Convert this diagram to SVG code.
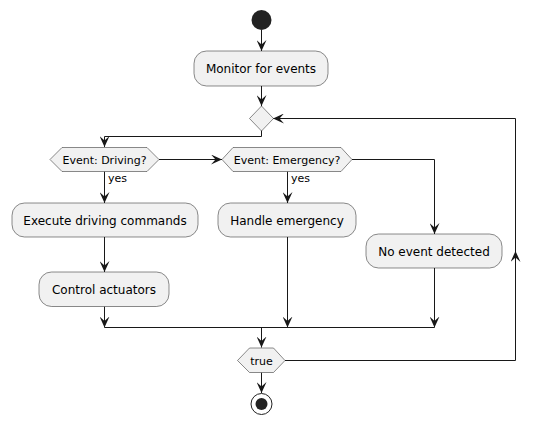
<svg xmlns="http://www.w3.org/2000/svg" width="539" height="422" viewBox="0 0 539 422">
<style>
.box{fill:#F1F1F1;stroke:#181818;stroke-width:0.5}
.t12{font-family:"DejaVu Sans",sans-serif;font-size:12px;fill:#000;text-anchor:middle}
.t11{font-family:"DejaVu Sans",sans-serif;font-size:11px;fill:#000;text-anchor:middle}
.lbl{font-family:"DejaVu Sans",sans-serif;font-size:11px;fill:#000}
.ln{fill:none;stroke:#181818;stroke-width:1}
.arr{marker-end:url(#ah)}
</style>
<defs>
<marker id="ah" viewBox="0 0 11 10" refX="11" refY="5" markerWidth="11" markerHeight="10" markerUnits="userSpaceOnUse" orient="auto">
<path d="M0,0 L11,5 L0,10 L4.5,5 Z" fill="#181818"/>
</marker>
</defs>
<g id="connectors">
<path class="ln arr" d="M261.5,30 V51"/>
<path class="ln arr" d="M261.5,86 V106"/>
<path class="ln arr" d="M261.5,130 V136.5 H104.5 V147"/>
<path class="ln arr" d="M159,159.5 H222"/>
<path class="ln arr" d="M104.5,171.5 V203"/>
<path class="ln arr" d="M104.5,237 V272"/>
<path class="ln arr" d="M287.5,171.5 V203"/>
<path class="ln arr" d="M352,159.5 H434.5 V234"/>
<path class="ln arr" d="M104.5,306.5 V327.5"/>
<path class="ln arr" d="M287.5,237 V327.5"/>
<path class="ln arr" d="M434.5,268 V327.5"/>
<path class="ln" d="M104.5,327.5 H434.5"/>
<path class="ln arr" d="M261.5,327.5 V347.5"/>
<path class="ln arr" d="M285,360.5 H515.5 V251"/>
<path class="ln arr" d="M515.5,252 V118.5 H273"/>
<path class="ln arr" d="M261.5,372.5 V393"/>
<text class="lbl" x="108" y="182">yes</text>
<text class="lbl" x="291" y="182">yes</text>
</g>
<g id="start"><circle cx="261.5" cy="20" r="10" fill="#222222"/></g>
<g id="monitor"><rect class="box" x="194" y="51" width="134" height="35" rx="12.5"/><text class="t12" x="261" y="73">Monitor for events</text></g>
<g id="merge1"><polygon class="box" points="261.5,106 273.5,118.5 261.5,131 249.5,118.5"/></g>
<g id="driving"><polygon class="box" points="50,159.5 62,147.5 147,147.5 159,159.5 147,171.5 62,171.5"/><text class="t11" x="104.5" y="163.5">Event: Driving?</text></g>
<g id="emergency"><polygon class="box" points="222,159.5 233,147.5 341,147.5 352,159.5 341,171.5 233,171.5"/><text class="t11" x="287" y="163.5">Event: Emergency?</text></g>
<g id="execute"><rect class="box" x="12" y="203" width="186" height="34" rx="12.5"/><text class="t12" x="105" y="224.5">Execute driving commands</text></g>
<g id="control"><rect class="box" x="39" y="272" width="130" height="34.5" rx="12.5"/><text class="t12" x="104" y="293.5">Control actuators</text></g>
<g id="handle"><rect class="box" x="218" y="203" width="138" height="34" rx="12.5"/><text class="t12" x="287" y="224.5">Handle emergency</text></g>
<g id="noevent"><rect class="box" x="366" y="234" width="136" height="34" rx="12.5"/><text class="t12" x="434" y="255.5">No event detected</text></g>
<g id="whiletrue"><polygon class="box" points="237.5,360.5 249.5,348 273.5,348 285,360.5 273.5,372.5 249.5,372.5"/><text class="t11" x="261.5" y="364.5">true</text></g>
<g id="stop"><circle cx="261.5" cy="404" r="10.5" fill="#FFFFFF" stroke="#222222" stroke-width="1"/><circle cx="261.5" cy="404" r="6" fill="#222222"/></g>
</svg>
